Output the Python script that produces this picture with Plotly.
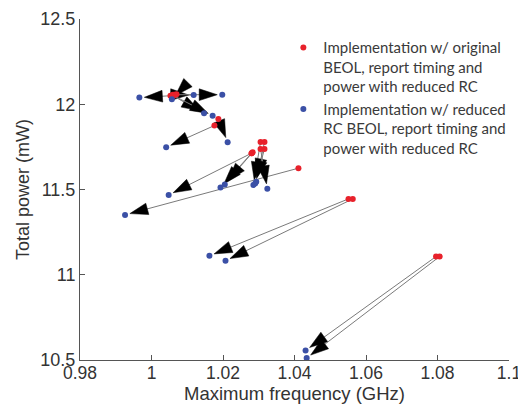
import plotly.graph_objects as go

# Original BEOL (red) -> reduced RC BEOL (blue), one arrow per design
red_freq = [1.0053, 1.0060, 1.0064, 1.0058, 1.0062, 1.0070,
            1.0187, 1.0176,
            1.0411, 1.0280, 1.0283, 1.0280,
            1.0305, 1.0316, 1.0305, 1.0316,
            1.0551, 1.0563, 1.0796, 1.0806]
red_power = [12.050, 12.056, 12.056, 12.052, 12.050, 12.058,
             11.914, 11.875,
             11.625, 11.713, 11.718, 11.713,
             11.779, 11.779, 11.738, 11.738,
             11.445, 11.445, 11.107, 11.107]
blue_freq = [0.9966, 1.0118, 1.0198, 1.0147, 1.0171, 1.0057,
             1.0213, 1.0041,
             0.9926, 1.0193, 1.0205, 1.0048,
             1.0285, 1.0293, 1.0324, 1.0290,
             1.0162, 1.0207, 1.0431, 1.0434]
blue_power = [12.039, 12.054, 12.056, 11.947, 11.933, 12.030,
              11.777, 11.748,
              11.351, 11.511, 11.530, 11.468,
              11.527, 11.546, 11.504, 11.535,
              11.111, 11.082, 10.556, 10.511]

x_ticks = [0.98, 1.0, 1.02, 1.04, 1.06, 1.08, 1.1]
x_ticklabels = ["0.98", "1", "1.02", "1.04", "1.06", "1.08", "1.1"]
y_ticks = [10.5, 11.0, 11.5, 12.0, 12.5]
y_ticklabels = ["10.5", "11", "11.5", "12", "12.5"]

red_label = "Implementation w/ original<br>BEOL, report timing and<br>power with reduced RC"
blue_label = "Implementation w/ reduced<br>RC BEOL, report timing and<br>power with reduced RC"

RED = "#e8212b"
BLUE = "#3b50a6"
TXT = "#333333"

fig = go.Figure()

for rx, ry, bx, by in zip(red_freq, red_power, blue_freq, blue_power):
    fig.add_trace(go.Scatter(
        x=[rx, bx], y=[ry, by], mode="lines+markers",
        line=dict(color="#7a7a7a", width=1),
        marker=dict(symbol="arrow", size=[0, 19], color="#000000",
                    opacity=1, angleref="previous", standoff=5,
                    line=dict(width=0.5, color="#000000")),
        showlegend=False, hoverinfo="skip"))

fig.add_trace(go.Scatter(
    x=red_freq, y=red_power, mode="markers", name=red_label,
    marker=dict(color=RED, size=6)))
fig.add_trace(go.Scatter(
    x=blue_freq, y=blue_power, mode="markers", name=blue_label,
    marker=dict(color=BLUE, size=6)))

# the page body has an 8px margin, so the figure is drawn 8px in from the corner
fig.update_layout(
    width=518, height=396,
    margin=dict(l=72, r=17, t=11, b=44),
    paper_bgcolor="white", plot_bgcolor="white",
    font=dict(family="Liberation Sans, Arial, sans-serif", color=TXT),
    legend=dict(x=0.474, y=0.964, xanchor="left", yanchor="top",
                valign="top", bgcolor="rgba(0,0,0,0)",
                font=dict(family="Lato, sans-serif", size=15, color="#3a3a3a"),
                tracegroupgap=3),
    xaxis=dict(range=[0.98, 1.1], tickvals=x_ticks, ticktext=x_ticklabels,
               automargin=False, ticklabeloverflow="allow",
               ticklabelstandoff=-3,
               showgrid=False, zeroline=False, showline=True,
               linecolor="#555555", linewidth=1, ticks="inside", ticklen=5,
               tickcolor="#555555", tickfont=dict(size=17.5, color=TXT),
               title=dict(text="Maximum frequency (GHz)", standoff=9,
                          font=dict(size=18.5, color=TXT))),
    yaxis=dict(range=[10.5, 12.5], tickvals=y_ticks, ticktext=y_ticklabels,
               automargin=False, ticklabeloverflow="allow",
               showgrid=False, zeroline=False, showline=True,
               linecolor="#555555", linewidth=1, ticks="inside", ticklen=5,
               tickcolor="#555555", tickfont=dict(size=18, color=TXT),
               title=dict(text="Total power (mW)", standoff=6,
                          font=dict(size=18, color=TXT))),
)

fig.write_html("out.html")
